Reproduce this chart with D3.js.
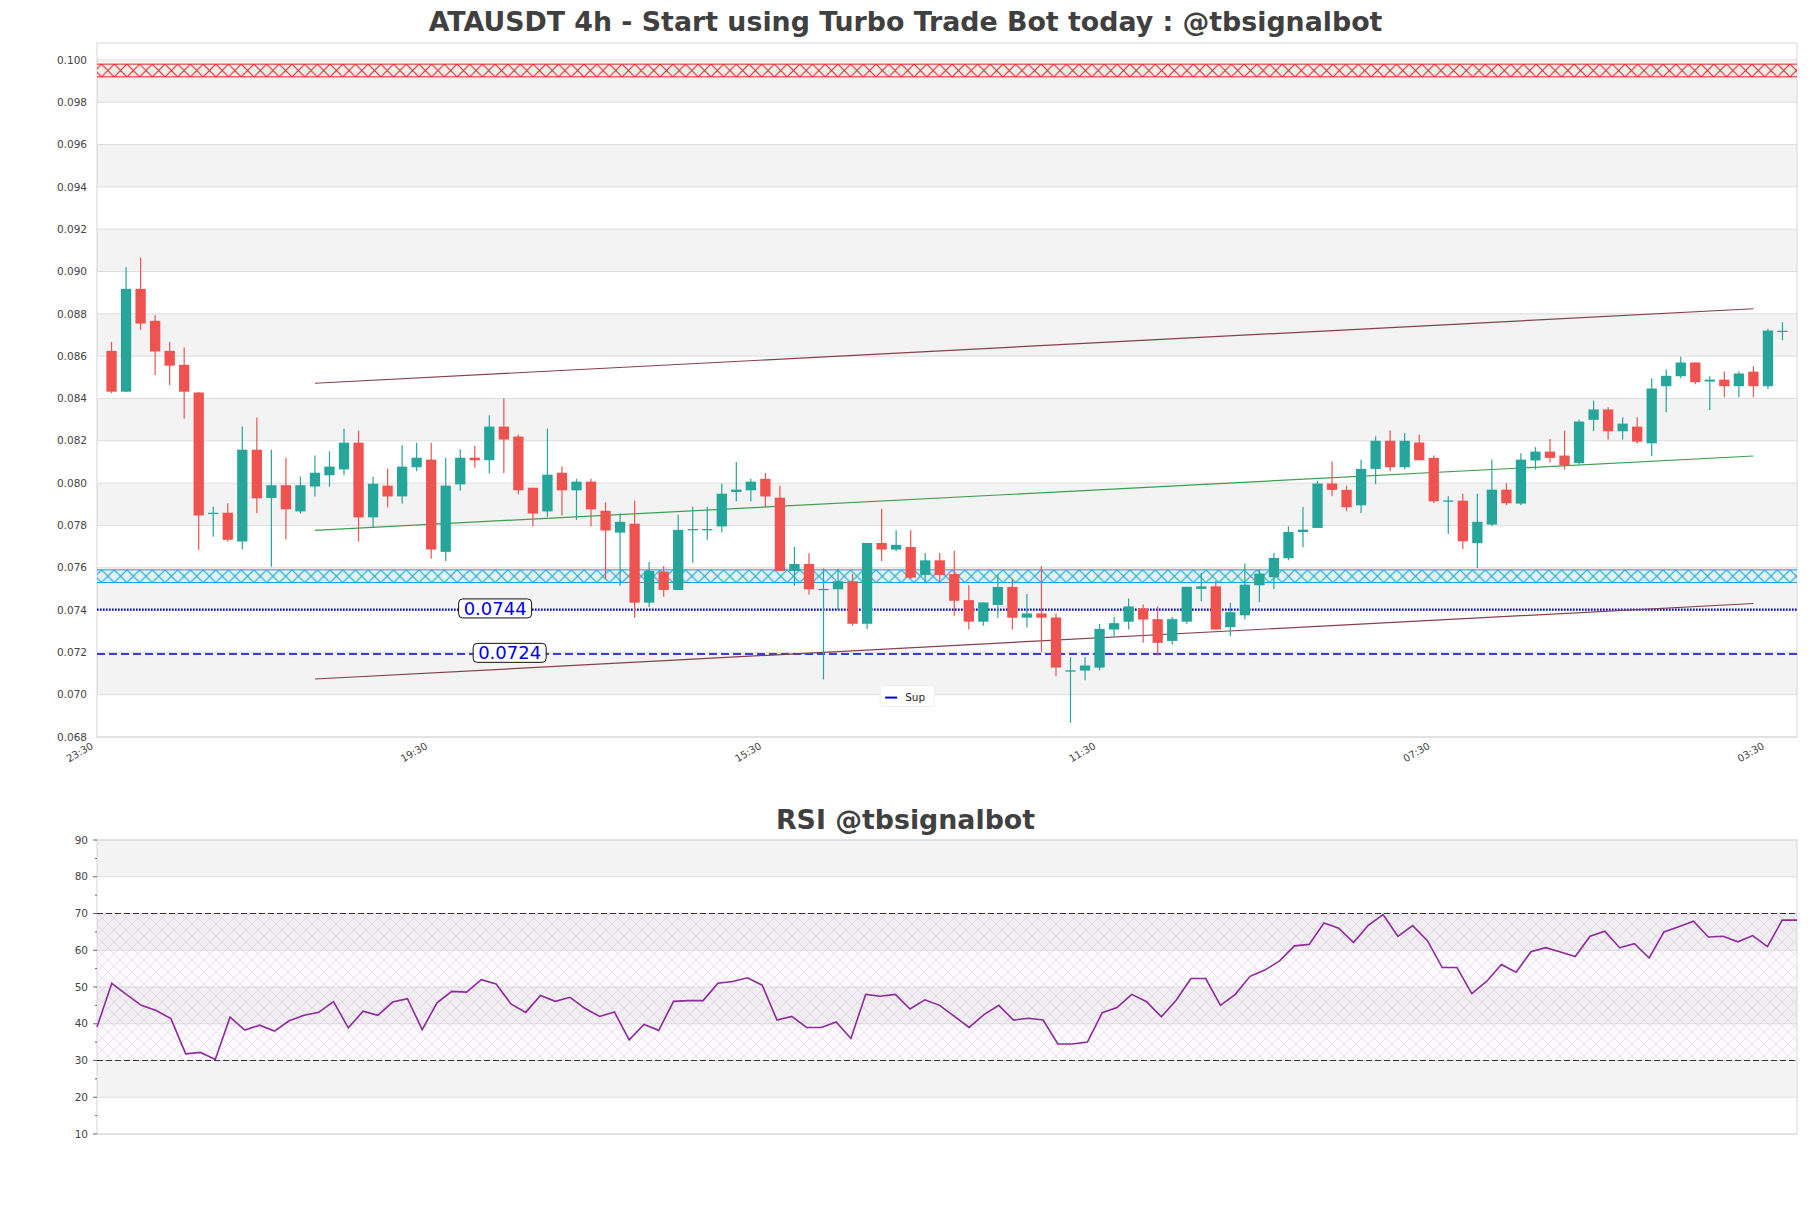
<!DOCTYPE html>
<html>
<head>
<meta charset="utf-8">
<title>ATAUSDT 4h</title>
<script src="https://cdn.jsdelivr.net/npm/d3@7/dist/d3.min.js"></script>
<style>
    body { margin: 0; background: #ffffff; }
    svg { display: block; font-family: "DejaVu Sans", sans-serif; }
</style>
</head>
<body>
<div id="chart"></div>
<script>
// 4h candles, oldest first
const opens = [0.08625, 0.08432, 0.08918, 0.08767, 0.08625, 0.08559, 0.08428, 0.07855, 0.0786, 0.07724,
    0.08158, 0.0793, 0.0799, 0.07866, 0.07984, 0.08037, 0.08065, 0.08191, 0.07838, 0.07988,
    0.07937, 0.08075, 0.08111, 0.07675, 0.07994, 0.0812, 0.08108, 0.08267, 0.0822, 0.07978,
    0.07866, 0.08049, 0.07966, 0.08007, 0.07869, 0.07766, 0.07808, 0.07435, 0.07582, 0.07495,
    0.07777, 0.07777, 0.07795, 0.07958, 0.07966, 0.0802, 0.07931, 0.07585, 0.07618, 0.07498,
    0.07498, 0.07536, 0.07335, 0.07717, 0.07686, 0.07698, 0.07566, 0.07635, 0.0757, 0.07447,
    0.07345, 0.07424, 0.07509, 0.07364, 0.07384, 0.07365, 0.07113, 0.07114, 0.07128, 0.07308,
    0.07345, 0.07408, 0.07357, 0.07254, 0.07345, 0.075, 0.07512, 0.07319, 0.07375, 0.07517,
    0.07555, 0.07645, 0.07769, 0.07788, 0.07998, 0.07968, 0.07895, 0.08067, 0.082, 0.08075,
    0.08192, 0.08119, 0.07915, 0.07917, 0.07716, 0.07804, 0.07969, 0.07903, 0.08107, 0.08149,
    0.0813, 0.08095, 0.08299, 0.08348, 0.08245, 0.08267, 0.08188, 0.08458, 0.08505, 0.0857,
    0.0848, 0.08489, 0.08458, 0.08527, 0.08458, 0.08718];
const highs = [0.08667, 0.0902, 0.09066, 0.08795, 0.08667, 0.08641, 0.0843, 0.07888, 0.07905, 0.08267,
    0.0831, 0.08158, 0.0812, 0.0803, 0.0813, 0.0815, 0.08257, 0.08248, 0.0803, 0.08068,
    0.08179, 0.08191, 0.08191, 0.0812, 0.0816, 0.08177, 0.08321, 0.084, 0.0823, 0.07978,
    0.08258, 0.08078, 0.0802, 0.0802, 0.07909, 0.07858, 0.07917, 0.07627, 0.07608, 0.0785,
    0.07888, 0.07888, 0.07997, 0.081, 0.0802, 0.08048, 0.07988, 0.07698, 0.07668, 0.07597,
    0.07595, 0.07572, 0.07717, 0.07879, 0.07777, 0.07777, 0.0767, 0.0767, 0.0768, 0.07517,
    0.07436, 0.07566, 0.07548, 0.07476, 0.07608, 0.07384, 0.07177, 0.07177, 0.07334, 0.07367,
    0.07455, 0.07427, 0.07417, 0.07367, 0.0751, 0.07575, 0.07536, 0.07434, 0.0762, 0.07591,
    0.0767, 0.07796, 0.07887, 0.0801, 0.08102, 0.07988, 0.0811, 0.08222, 0.08248, 0.08237,
    0.0823, 0.0813, 0.07938, 0.0795, 0.0795, 0.08111, 0.07999, 0.08141, 0.0817, 0.08209,
    0.08248, 0.083, 0.0839, 0.08359, 0.08311, 0.08311, 0.08496, 0.08537, 0.08597, 0.0857,
    0.08505, 0.08527, 0.08527, 0.08553, 0.08729, 0.08761];
const lows = [0.08425, 0.0843, 0.08724, 0.08511, 0.08464, 0.08305, 0.07684, 0.07747, 0.07724, 0.07687,
    0.07858, 0.07605, 0.07733, 0.07856, 0.07937, 0.07983, 0.08037, 0.07724, 0.0779, 0.07885,
    0.07904, 0.08056, 0.07642, 0.07632, 0.07964, 0.08073, 0.08046, 0.08046, 0.07947, 0.07795,
    0.0784, 0.07847, 0.07826, 0.07795, 0.07545, 0.07515, 0.07364, 0.07414, 0.07463, 0.07495,
    0.07624, 0.07732, 0.07766, 0.07913, 0.07913, 0.07885, 0.07585, 0.07515, 0.07474, 0.07072,
    0.074, 0.07326, 0.0731, 0.07632, 0.07678, 0.07547, 0.07528, 0.07531, 0.07373, 0.07308,
    0.07326, 0.07364, 0.07308, 0.07318, 0.07202, 0.07087, 0.06867, 0.07068, 0.07115, 0.07273,
    0.07308, 0.07245, 0.07185, 0.07237, 0.07335, 0.07441, 0.07308, 0.07276, 0.07355, 0.07437,
    0.075, 0.07635, 0.07697, 0.07788, 0.07938, 0.07867, 0.07859, 0.07995, 0.08056, 0.08064,
    0.08108, 0.07906, 0.0776, 0.07689, 0.07599, 0.07796, 0.07895, 0.07895, 0.08064, 0.08097,
    0.08064, 0.08088, 0.08245, 0.08206, 0.08206, 0.08187, 0.08127, 0.08335, 0.08496, 0.08467,
    0.08345, 0.08406, 0.08406, 0.08406, 0.08445, 0.08675];
const closes = [0.08432, 0.08918, 0.08754, 0.08622, 0.08555, 0.08432, 0.07847, 0.0786, 0.07732, 0.08158,
    0.07928, 0.0799, 0.07876, 0.0799, 0.08049, 0.08078, 0.08191, 0.07838, 0.07997, 0.07937,
    0.08078, 0.0812, 0.07686, 0.07988, 0.0812, 0.08108, 0.08267, 0.08206, 0.07966, 0.07856,
    0.0804, 0.07966, 0.08007, 0.07876, 0.07776, 0.07817, 0.07435, 0.07585, 0.07495, 0.07779,
    0.07783, 0.07783, 0.0795, 0.07969, 0.08007, 0.07937, 0.07585, 0.07618, 0.07498, 0.075,
    0.07536, 0.07335, 0.07717, 0.07686, 0.07708, 0.07553, 0.07635, 0.07566, 0.07444, 0.07345,
    0.07436, 0.07509, 0.07364, 0.07384, 0.07364, 0.07128, 0.07115, 0.07138, 0.07311, 0.07338,
    0.07417, 0.07355, 0.07245, 0.07357, 0.0751, 0.07512, 0.07308, 0.0739, 0.0752, 0.07572,
    0.07646, 0.07769, 0.0778, 0.07998, 0.07968, 0.07886, 0.08067, 0.082, 0.08075, 0.082,
    0.08108, 0.07914, 0.07918, 0.07725, 0.07817, 0.07969, 0.07905, 0.08111, 0.08149, 0.08119,
    0.08084, 0.08291, 0.08348, 0.08245, 0.08281, 0.08196, 0.08447, 0.08507, 0.0857, 0.08477,
    0.08489, 0.08458, 0.08518, 0.08458, 0.08721, 0.0872];

const rsiValues = [39.1, 51, 47.9, 45, 43.6, 41.4, 31.8, 32.2, 30.3, 41.8,
    38.3, 39.6, 38, 40.8, 42.3, 43.1, 46, 38.9, 43.4, 42.3,
    45.9, 46.8, 38.4, 45.7, 48.8, 48.6, 52, 50.8, 45.4, 43.1,
    47.7, 46.1, 47.2, 44.2, 42, 43.2, 35.6, 39.8, 38.2, 46.1,
    46.3, 46.3, 51, 51.5, 52.5, 50.5, 41, 42, 39, 39,
    40.5, 36, 48, 47.5, 48, 44, 46.5, 45, 42, 39,
    42.5, 45, 41, 41.5, 41, 34.5, 34.5, 35, 43, 44.4,
    48.0, 46.0, 41.9, 46.4, 52.3, 52.3, 45.0, 48.0, 52.9, 54.6,
    57.1, 61.2, 61.6, 67.4, 66.0, 62.1, 66.8, 69.7, 63.8, 66.7,
    62.6, 55.3, 55.3, 48.2, 51.5, 56.1, 54, 59.6, 60.7, 59.5,
    58.3, 63.8, 65.2, 60.7, 61.8, 57.9, 65, 66.4, 67.9, 63.6,
    63.8, 62.3, 64, 61, 68.2, 68.2];

const timeTickIndex = [-1, 22, 45, 68, 91, 114];
const timeTickLabels = ["23:30", "19:30", "15:30", "11:30", "07:30", "03:30"];
const priceTicks = [0.068, 0.070, 0.072, 0.074, 0.076, 0.078, 0.080, 0.082, 0.084,
    0.086, 0.088, 0.090, 0.092, 0.094, 0.096, 0.098, 0.100];
const rsiTicks = [10, 20, 30, 40, 50, 60, 70, 80, 90];
const rsiLevels = [30, 70];

// zones and levels
const resistanceZone = [0.0992, 0.0998];
const supportZone = [0.0753, 0.0759];
const supportLevels = [0.07402, 0.07192];
const supportLabels = ["0.0744", "0.0724"];
const supportLabelIndex = [26.4, 27.4];

// channel, from candle 14 to candle 113
const channelIndex = [14, 113];
const channelUpper = [0.08472, 0.08824];
const channelMid = [0.07777, 0.08128];
const channelLower = [0.07074, 0.07431];

const titleText = "ATAUSDT 4h - Start using Turbo Trade Bot today : @tbsignalbot";
const rsiTitleText = "RSI @tbsignalbot";

class TradeChart {
    constructor(parentElement) {
        this.parentElement = parentElement;
        this.initVis();
    }

    initVis() {
        let vis = this;

        vis.width = 1811;
        vis.height = 1208;
        vis.plot = {left: 97, right: 1797, top: 43, bottom: 737};
        vis.rsiPlot = {left: 97, right: 1797, top: 840, bottom: 1134};

        vis.svg = d3.select("#" + vis.parentElement)
            .append("svg")
            .attr("width", vis.width)
            .attr("height", vis.height);

        vis.defs = vis.svg.append("defs");

        vis.x = d3.scaleLinear()
            .domain([-1, opens.length])
            .range([vis.plot.left, vis.plot.right]);
        vis.y = d3.scaleLinear()
            .domain([0.068, 0.1008])
            .range([vis.plot.bottom, vis.plot.top]);

        vis.rsiX = d3.scaleLinear()
            .domain([0, rsiValues.length - 1])
            .range([vis.rsiPlot.left, vis.rsiPlot.right]);
        vis.rsiY = d3.scaleLinear()
            .domain([10, 90])
            .range([vis.rsiPlot.bottom, vis.rsiPlot.top]);

        vis.drawPrice();
        vis.drawRsi();
    }

    hatch(id, color, size, y0, width) {
        let vis = this;
        let p = vis.defs.append("pattern")
            .attr("id", id)
            .attr("patternUnits", "userSpaceOnUse")
            .attr("x", 0)
            .attr("y", y0)
            .attr("width", size)
            .attr("height", size);
        p.append("path")
            .attr("d", `M0,0L${size},${size}M${size},0L0,${size}`)
            .attr("stroke", color)
            .attr("stroke-width", width)
            .attr("fill", "none");
    }

    drawPrice() {
        let vis = this;
        let x = vis.x, y = vis.y, P = vis.plot;

        vis.svg.append("text")
            .attr("x", vis.width / 2)
            .attr("y", 31)
            .attr("text-anchor", "middle")
            .attr("font-size", "26.8px")
            .attr("font-weight", "bold")
            .attr("fill", "#404040")
            .text(titleText);

        let g = vis.svg.append("g");

        // alternating bands
        let bands = priceTicks.slice(0, -1).map((t, i) => [t, priceTicks[i + 1]]).filter((d, i) => i % 2 === 1);
        g.selectAll(".band")
            .data(bands)
            .enter().append("rect")
            .attr("x", P.left)
            .attr("width", P.right - P.left)
            .attr("y", d => y(d[1]))
            .attr("height", d => y(d[0]) - y(d[1]))
            .attr("fill", "#f3f3f3");

        g.selectAll(".grid")
            .data(priceTicks)
            .enter().append("line")
            .attr("x1", P.left).attr("x2", P.right)
            .attr("y1", d => y(d)).attr("y2", d => y(d))
            .attr("stroke", "#dddddd")
            .attr("stroke-width", 1);

        g.append("rect")
            .attr("x", P.left).attr("y", P.top)
            .attr("width", P.right - P.left).attr("height", P.bottom - P.top)
            .attr("fill", "none")
            .attr("stroke", "#d6d6d6");

        g.selectAll(".ylab")
            .data(priceTicks)
            .enter().append("text")
            .attr("x", P.left - 10)
            .attr("y", d => y(d))
            .attr("dy", "0.35em")
            .attr("text-anchor", "end")
            .attr("font-size", "10.5px")
            .attr("fill", "#444")
            .text(d => d3.format(".3f")(d));

        g.selectAll(".xlab")
            .data(timeTickIndex)
            .enter().append("text")
            .attr("transform", d => `translate(${x(d) - 3},${P.bottom + 11}) rotate(-30)`)
            .attr("text-anchor", "end")
            .attr("font-size", "10px")
            .attr("fill", "#444")
            .text((d, i) => timeTickLabels[i]);

        // hatched zones
        let zones = [
            {id: "hatchRed", range: resistanceZone, color: "#e0262b", fill: "rgba(255,220,200,0.25)"},
            {id: "hatchBlue", range: supportZone, color: "#1a9fd8", fill: "rgba(180,230,250,0.2)"}
        ];
        zones.forEach(z => {
            let top = y(z.range[1]), bot = y(z.range[0]);
            vis.hatch(z.id, z.color, bot - top, top, 1.1);
            g.append("rect")
                .attr("x", P.left).attr("y", top)
                .attr("width", P.right - P.left).attr("height", bot - top)
                .attr("fill", z.fill);
            g.append("rect")
                .attr("x", P.left).attr("y", top)
                .attr("width", P.right - P.left).attr("height", bot - top)
                .attr("fill", `url(#${z.id})`);
            [top, bot].forEach(v => {
                g.append("line")
                    .attr("x1", P.left).attr("x2", P.right)
                    .attr("y1", v).attr("y2", v)
                    .attr("stroke", z.color)
                    .attr("stroke-width", 1);
            });
        });

        // support lines
        g.append("line")
            .attr("x1", P.left).attr("x2", P.right)
            .attr("y1", y(supportLevels[0])).attr("y2", y(supportLevels[0]))
            .attr("stroke", "#0000cd")
            .attr("stroke-width", 2.4)
            .attr("stroke-dasharray", "1.6,1.4");
        g.append("line")
            .attr("x1", P.left).attr("x2", P.right)
            .attr("y1", y(supportLevels[1])).attr("y2", y(supportLevels[1]))
            .attr("stroke", "#0000cd")
            .attr("stroke-width", 1.4)
            .attr("stroke-dasharray", "8,4");

        // channel lines
        let channels = [[channelUpper, "#86404f"], [channelMid, "#3c9f4f"], [channelLower, "#86404f"]];
        channels.forEach(c => {
            g.append("line")
                .attr("x1", x(channelIndex[0])).attr("y1", y(c[0][0]))
                .attr("x2", x(channelIndex[1])).attr("y2", y(c[0][1]))
                .attr("stroke", c[1])
                .attr("stroke-width", 1.2);
        });

        // candles
        let idx = d3.range(opens.length);
        let color = i => closes[i] >= opens[i] ? "#26a69a" : "#ef5350";
        let bw = 10.3;

        g.selectAll(".wick")
            .data(idx)
            .enter().append("line")
            .attr("x1", i => x(i)).attr("x2", i => x(i))
            .attr("y1", i => y(highs[i])).attr("y2", i => y(lows[i]))
            .attr("stroke", color)
            .attr("stroke-width", 1.2);

        g.selectAll(".body")
            .data(idx)
            .enter().append("rect")
            .attr("x", i => x(i) - bw / 2)
            .attr("width", bw)
            .attr("y", i => y(Math.max(opens[i], closes[i])))
            .attr("height", i => Math.max(1.3, Math.abs(y(opens[i]) - y(closes[i]))))
            .attr("fill", color);

        // price labels on the support lines
        supportLabels.forEach((lab, i) => {
            let lg = g.append("g");
            let t = lg.append("text")
                .attr("x", x(supportLabelIndex[i]))
                .attr("y", y(supportLevels[i]) - 1)
                .attr("dy", "0.35em")
                .attr("text-anchor", "middle")
                .attr("font-size", "18px")
                .attr("fill", "#0000ee")
                .text(lab);
            let bb = t.node().getBBox();
            lg.insert("rect", "text")
                .attr("x", bb.x - 5).attr("y", bb.y + 1)
                .attr("width", bb.width + 10).attr("height", bb.height - 2)
                .attr("rx", 4)
                .attr("fill", "#ffffff")
                .attr("stroke", "#111")
                .attr("stroke-width", 1);
        });

        // legend
        let leg = g.append("g").attr("transform", `translate(${x(52.9)},${y(0.07043)})`);
        leg.append("rect")
            .attr("width", 54).attr("height", 21).attr("rx", 2)
            .attr("fill", "#ffffff").attr("stroke", "#eeeeee");
        leg.append("line")
            .attr("x1", 5).attr("x2", 17).attr("y1", 12).attr("y2", 12)
            .attr("stroke", "#0000cd").attr("stroke-width", 2);
        leg.append("text")
            .attr("x", 25).attr("y", 15)
            .attr("font-size", "10.5px")
            .attr("fill", "#222")
            .text("Sup");
    }

    drawRsi() {
        let vis = this;
        let x = vis.rsiX, y = vis.rsiY, P = vis.rsiPlot;

        vis.svg.append("text")
            .attr("x", vis.width / 2)
            .attr("y", 829)
            .attr("text-anchor", "middle")
            .attr("font-size", "26.8px")
            .attr("font-weight", "bold")
            .attr("fill", "#404040")
            .text(rsiTitleText);

        let g = vis.svg.append("g");

        let bands = rsiTicks.slice(0, -1).map((t, i) => [t, rsiTicks[i + 1]]).filter((d, i) => i % 2 === 1);
        g.selectAll(".band")
            .data(bands)
            .enter().append("rect")
            .attr("x", P.left)
            .attr("width", P.right - P.left)
            .attr("y", d => y(d[1]))
            .attr("height", d => y(d[0]) - y(d[1]))
            .attr("fill", "#f3f3f3");

        g.selectAll(".grid")
            .data(rsiTicks)
            .enter().append("line")
            .attr("x1", P.left).attr("x2", P.right)
            .attr("y1", d => y(d)).attr("y2", d => y(d))
            .attr("stroke", "#dddddd");

        // hatched area between the 30 and 70 levels
        vis.hatch("hatchRsi", "#c5a6d2", 12, 0, 0.5);
        g.append("rect")
            .attr("x", P.left).attr("y", y(rsiLevels[1]))
            .attr("width", P.right - P.left)
            .attr("height", y(rsiLevels[0]) - y(rsiLevels[1]))
            .attr("fill", "rgba(200,170,215,0.06)");
        g.append("rect")
            .attr("x", P.left).attr("y", y(rsiLevels[1]))
            .attr("width", P.right - P.left)
            .attr("height", y(rsiLevels[0]) - y(rsiLevels[1]))
            .attr("fill", "url(#hatchRsi)")
            .attr("opacity", 0.6);

        g.append("rect")
            .attr("x", P.left).attr("y", P.top)
            .attr("width", P.right - P.left).attr("height", P.bottom - P.top)
            .attr("fill", "none")
            .attr("stroke", "#d6d6d6");

        g.selectAll(".level")
            .data(rsiLevels)
            .enter().append("line")
            .attr("x1", P.left).attr("x2", P.right)
            .attr("y1", d => y(d)).attr("y2", d => y(d))
            .attr("stroke", "#333")
            .attr("stroke-width", 1.2)
            .attr("stroke-dasharray", "6,3");

        // ticks
        let minor = d3.range(15, 90, 10);
        g.selectAll(".tick")
            .data(rsiTicks)
            .enter().append("line")
            .attr("x1", P.left - 4).attr("x2", P.left)
            .attr("y1", d => y(d)).attr("y2", d => y(d))
            .attr("stroke", "#666");
        g.selectAll(".mtick")
            .data(minor)
            .enter().append("line")
            .attr("x1", P.left - 2).attr("x2", P.left)
            .attr("y1", d => y(d)).attr("y2", d => y(d))
            .attr("stroke", "#666");
        g.selectAll(".ylab")
            .data(rsiTicks)
            .enter().append("text")
            .attr("x", P.left - 9)
            .attr("y", d => y(d))
            .attr("dy", "0.35em")
            .attr("text-anchor", "end")
            .attr("font-size", "10.5px")
            .attr("fill", "#444")
            .text(d => d);

        let line = d3.line()
            .x((d, i) => x(i))
            .y(d => y(d));
        g.append("path")
            .datum(rsiValues)
            .attr("d", line)
            .attr("fill", "none")
            .attr("stroke", "#8e2a9c")
            .attr("stroke-width", 1.6);
    }
}

let chart = new TradeChart("chart");
</script>
</body>
</html>
